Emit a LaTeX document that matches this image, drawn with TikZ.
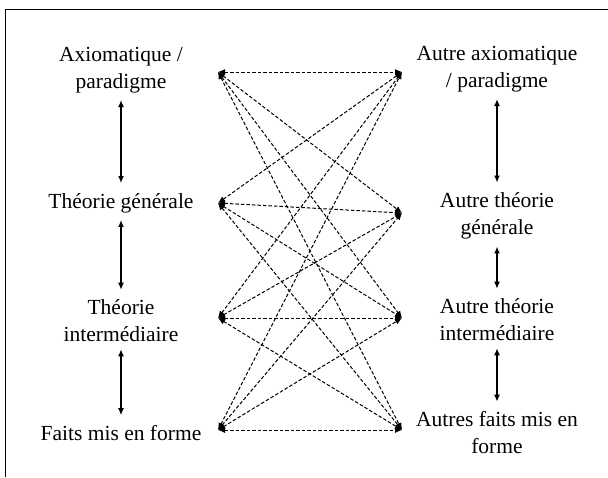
\documentclass[tikz,border=0pt]{standalone}
\usepackage{fontspec}
\setmainfont{Liberation Serif}
\usetikzlibrary{arrows.meta}

\begin{document}
\begin{tikzpicture}[x=1pt, y=-1pt,
  lbl/.style={align=center, inner sep=0pt, font=\fontsize{21.5}{27}\selectfont},
  vert/.style={{Latex[length=7pt,width=6pt]}-{Latex[length=7pt,width=6pt]}, line width=1.3pt, shorten <=7pt, shorten >=10pt},
  link/.style={{Latex[length=7pt,width=6pt]}-{Latex[length=7pt,width=6pt]}, dash pattern=on 3.5pt off 2pt, line width=1pt}
]
\useasboundingbox (0,0) rectangle (608,477);
\draw[line width=0.8pt] (5,477) -- (5,9) -- (608,9);

% left column
\node[lbl] (axiome) at (121,70) {Axiomatique /\\paradigme};
\node[lbl] (generale) at (121,203) {Théorie générale};
\node[lbl] (interm) at (121,321) {Théorie\\intermédiaire};
\node[lbl] (faits) at (121,433) {Faits mis en forme};

% right column
\node[lbl] (autaxiome) at (497,69) {Autre axiomatique\\/ paradigme};
\node[lbl] (autgenerale) at (497,216) {Autre théorie\\générale};
\node[lbl] (autinterm) at (497,320) {Autre théorie\\intermédiaire};
\node[lbl] (autfaits) at (497,433) {Autres faits mis en\\forme};

\draw[vert] (axiome) -- (generale);
\draw[vert] (generale) -- (interm);
\draw[vert] (interm) -- (faits);
\draw[vert] (autaxiome) -- (autgenerale);
\draw[vert] (autgenerale) -- (autinterm);
\draw[vert] (autinterm) -- (autfaits);

% ends of the dashed links
\coordinate (l1) at (218,72);
\coordinate (l2) at (218,203);
\coordinate (l3) at (218,318);
\coordinate (l4) at (218,430);
\coordinate (r1) at (402,72);
\coordinate (r2) at (402,213);
\coordinate (r3) at (402,318);
\coordinate (r4) at (402,430);

\draw[link] (l1) -- (r1);
\draw[link] (l1) -- (r2);
\draw[link] (l1) -- (r3);
\draw[link] (l1) -- (r4);
\draw[link] (l2) -- (r1);
\draw[link] (l2) -- (r2);
\draw[link] (l2) -- (r3);
\draw[link] (l2) -- (r4);
\draw[link] (l3) -- (r1);
\draw[link] (l3) -- (r2);
\draw[link] (l3) -- (r3);
\draw[link] (l3) -- (r4);
\draw[link] (l4) -- (r1);
\draw[link] (l4) -- (r2);
\draw[link] (l4) -- (r3);
\draw[link] (l4) -- (r4);
\end{tikzpicture}
\end{document}
